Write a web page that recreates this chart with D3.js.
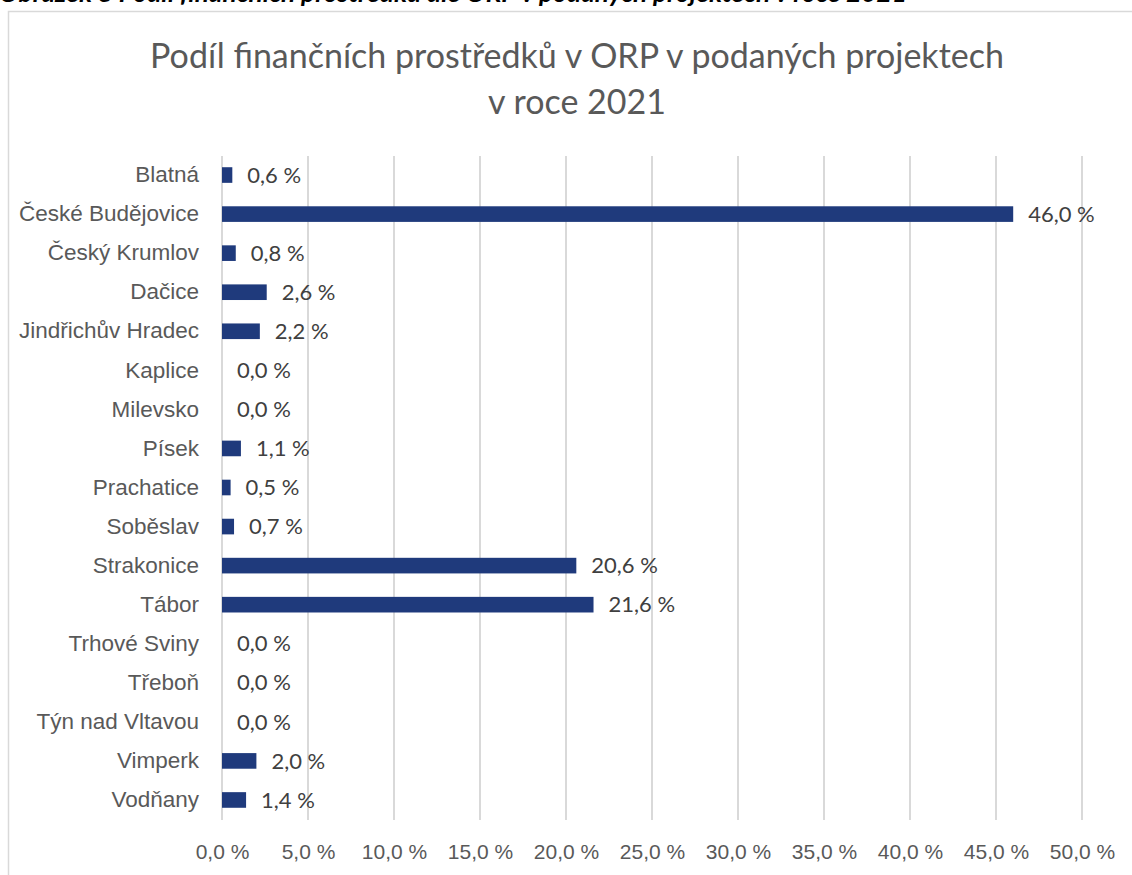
<!DOCTYPE html>
<html lang="cs">
<head>
<meta charset="UTF-8"/>
<title>Podíl finančních prostředků v ORP</title>
<style>
  body { margin: 0; background: #fff; }
  svg { display: block; font-family: Lato, "Open Sans", sans-serif; }
  .caption { font-size: 25px; font-weight: 700; font-style: italic; fill: #000; }
  .title { font-size: 34px; fill: #595959; }
  .cat text { font-size: 22.5px; fill: #595959; }
  .xaxis text { font-size: 21px; fill: #595959; }
  .value { font-size: 22px; fill: #404040; }
  .grid line { stroke: #d9d9d9; stroke-width: 2; }
</style>
</head>
<body>
<svg width="1132" height="875"></svg>
<script src="https://cdn.jsdelivr.net/npm/d3@7"></script>
<script>
const categories = ['Blatná', 'České Budějovice', 'Český Krumlov', 'Dačice', 'Jindřichův Hradec',
  'Kaplice', 'Milevsko', 'Písek', 'Prachatice', 'Soběslav', 'Strakonice', 'Tábor',
  'Trhové Sviny', 'Třeboň', 'Týn nad Vltavou', 'Vimperk', 'Vodňany'];
const values = [0.6, 46.0, 0.8, 2.6, 2.2, 0.0, 0.0, 1.1, 0.5, 0.7, 20.6, 21.6, 0.0, 0.0, 0.0, 2.0, 1.4];
const ticks = [0, 5, 10, 15, 20, 25, 30, 35, 40, 45, 50];

const fmt = v => v.toFixed(1).replace('.', ',') + ' %';

const svg = d3.select('svg');

// caption (cut off at the top like the source)
svg.append('text').attr('class', 'caption')
  .attr('x', -1).attr('y', 2)
  .attr('textLength', 908).attr('lengthAdjust', 'spacingAndGlyphs')
  .text('Obrázek 8 Podíl finančních prostředků dle ORP v podaných projektech v roce 2021');

// chart frame
svg.append('rect')
  .attr('x', 8.5).attr('y', 11.5).attr('width', 1200).attr('height', 1000)
  .attr('fill', '#fff').attr('stroke', '#d9d9d9').attr('stroke-width', 1.5);

svg.append('text').attr('class', 'title')
  .attr('x', 577).attr('y', 68).attr('text-anchor', 'middle')
  .text('Podíl finančních prostředků v ORP v podaných projektech');
svg.append('text').attr('class', 'title')
  .attr('x', 577).attr('y', 114).attr('text-anchor', 'middle')
  .text('v roce 2021');

const x = d3.scaleLinear().domain([0, 50]).range([222, 1082]);
const y = d3.scaleBand().domain(categories).range([155.5, 819.5])
  .paddingInner(0.6).paddingOuter(0.3);

// gridlines
svg.append('g').attr('class', 'grid')
  .selectAll('line').data(ticks).join('line')
  .attr('x1', d => x(d)).attr('x2', d => x(d))
  .attr('y1', 156).attr('y2', 820);

// x axis labels
const xa = svg.append('g').attr('class', 'xaxis')
  .attr('transform', 'translate(0,840)')
  .call(d3.axisBottom(x).tickValues(ticks).tickFormat(fmt).tickSize(0));
xa.select('.domain').remove();
xa.selectAll('text').attr('dy', '0.32em').attr('y', 12).attr('fill', null);

// category labels
const ya = svg.append('g').attr('class', 'cat')
  .attr('transform', 'translate(199,0)')
  .call(d3.axisLeft(y).tickSize(0).tickPadding(0));
ya.select('.domain').remove();
ya.selectAll('text').attr('fill', null);

const rows = categories.map((c, i) => ({ c, v: values[i] }));

svg.append('g').selectAll('rect').data(rows).join('rect')
  .attr('x', x(0))
  .attr('y', d => y(d.c))
  .attr('width', d => x(d.v) - x(0))
  .attr('height', y.bandwidth())
  .attr('fill', '#1f3a7c');

svg.append('g').selectAll('text').data(rows).join('text')
  .attr('class', 'value')
  .attr('x', d => x(d.v) + 15)
  .attr('y', d => y(d.c) + y.bandwidth() / 2)
  .attr('dy', '0.35em')
  .text(d => fmt(d.v));
</script>
</body>
</html>
